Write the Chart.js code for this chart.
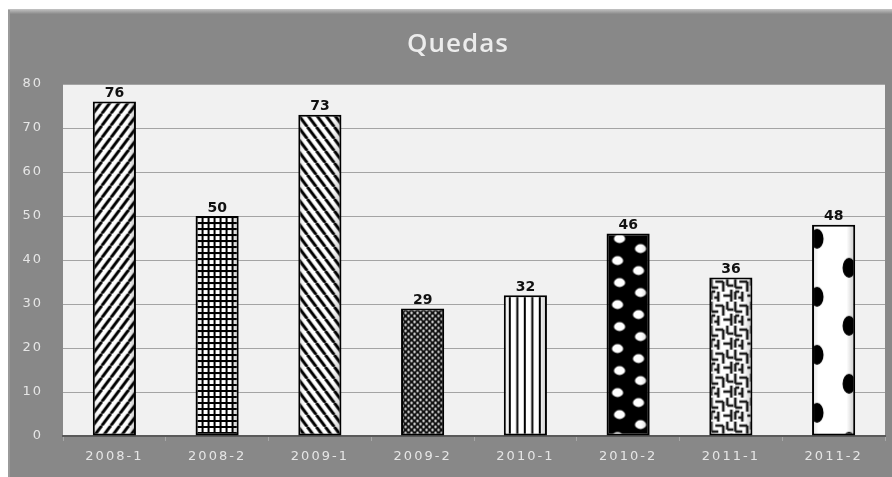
<!DOCTYPE html>
<html>
<head>
<meta charset="utf-8">
<script src="https://cdn.jsdelivr.net/npm/chart.js@4"></script>
<style>
  html, body { margin: 0; padding: 0; background: #fff; }
  #wrap { width: 892px; height: 477px; }
</style>
</head>
<body>
<div id="wrap"><canvas id="c" width="892" height="477"></canvas></div>
<script>
'use strict';

const categories = ['2008-1', '2008-2', '2009-1', '2009-2', '2010-1', '2010-2', '2011-1', '2011-2'];
const quedas = [76, 50, 73, 29, 32, 46, 36, 48];
const yTicks = [0, 10, 20, 30, 40, 50, 60, 70, 80];
const titleText = 'Quedas';

// small tiles turned into canvas patterns, one per bar
function tile(w, h, draw) {
    let cv = document.createElement('canvas');
    cv.width = w;
    cv.height = h;
    let g = cv.getContext('2d');
    draw(g, w, h);
    return document.getElementById('c').getContext('2d').createPattern(cv, 'repeat');
}

function stripes(dir) {
    return tile(9, 12, (g, w, h) => {
        g.fillStyle = '#fff';
        g.fillRect(0, 0, w, h);
        g.strokeStyle = '#000';
        g.lineWidth = 3;
        g.beginPath();
        for (let k = -1; k <= 1; k++) {
            if (dir > 0) {
                g.moveTo(k * w, h); g.lineTo(k * w + w, 0);
            } else {
                g.moveTo(k * w, 0); g.lineTo(k * w + w, h);
            }
        }
        g.stroke();
    });
}

let patterns = [
    stripes(1),
    tile(6, 6, (g) => {
        g.fillStyle = '#fff'; g.fillRect(0, 0, 6, 6);
        g.fillStyle = '#000'; g.fillRect(0, 0, 6, 2); g.fillRect(0, 0, 2, 6);
    }),
    stripes(-1),
    tile(6, 6, (g) => {
        g.fillStyle = '#111'; g.fillRect(0, 0, 6, 6);
        g.fillStyle = '#eee';
        g.beginPath(); g.arc(1.5, 1.5, 1.2, 0, Math.PI * 2); g.fill();
        g.beginPath(); g.arc(4.5, 4.5, 1.2, 0, Math.PI * 2); g.fill();
    }),
    tile(15, 10, (g) => {
        g.fillStyle = '#fff'; g.fillRect(0, 0, 15, 10);
        g.fillStyle = '#000'; g.fillRect(5, 0, 2, 10); g.fillRect(12.5, 0, 2, 10);
    }),
    tile(42, 44, (g) => {
        g.fillStyle = '#000'; g.fillRect(0, 0, 42, 44);
        g.fillStyle = '#fff';
        for (let [x, y] of [[13, 5], [34, 15], [11, 27], [32, 37]]) {
            g.beginPath(); g.ellipse(x, y, 5.6, 4.4, 0, 0, Math.PI * 2); g.fill();
        }
    }),
    tile(24, 24, (g) => {
        g.fillStyle = '#fff'; g.fillRect(0, 0, 24, 24);
        g.strokeStyle = '#1a1a1a'; g.lineWidth = 2.6;
        g.beginPath();
        let segs = [[2, 0, 2, 10], [2, 10, 9, 10], [6, 4, 14, 4], [14, 4, 14, 14], [9, 14, 9, 24],
                    [18, 0, 18, 8], [18, 8, 24, 8], [14, 18, 22, 18], [22, 12, 22, 24], [2, 14, 6, 14],
                    [2, 14, 2, 22], [5, 20, 9, 20]];
        for (let s of segs) { g.moveTo(s[0], s[1]); g.lineTo(s[2], s[3]); }
        g.stroke();
    }),
    tile(43, 58, (g) => {
        g.fillStyle = '#fff'; g.fillRect(0, 0, 43, 58);
        g.fillStyle = '#000';
        for (let [x, y] of [[5, 14], [37, 43]]) {
            g.beginPath(); g.ellipse(x, y, 6.5, 10, 0, 0, Math.PI * 2); g.fill();
        }
    }),
];

const panelPlugin = {
    id: 'panel',
    beforeDraw(chart) {
        let ctx = chart.ctx;
        let a = chart.chartArea;
        ctx.save();
        ctx.fillStyle = '#888';
        ctx.fillRect(8, 10, 884, 467);
        let grad = ctx.createLinearGradient(0, 9, 0, 14);
        grad.addColorStop(0, '#c4c4c4');
        grad.addColorStop(1, '#8a8a8a');
        ctx.fillStyle = grad;
        ctx.fillRect(8, 9, 884, 5);
        ctx.fillStyle = '#9a9a9a';
        ctx.fillRect(8, 10, 2, 467);
        ctx.fillStyle = '#f1f1f1';
        ctx.fillRect(a.left, a.top, a.right - a.left, a.bottom - a.top);
        ctx.fillStyle = '#ececec';
        ctx.font = '600 26px "Open Sans", "DejaVu Sans", sans-serif';
        ctx.letterSpacing = '1px';
        ctx.textAlign = 'center';
        ctx.textBaseline = 'middle';
        ctx.fillText(titleText, 458, 45);
        ctx.restore();
        ctx.letterSpacing = '2px';
    },
    beforeDatasetsDraw(chart) {
        // anchor each tile to its own bar so the dots sit like the reference
        let meta = chart.getDatasetMeta(0);
        meta.data.forEach((bar, i) => {
            let p = patterns[i];
            if (p && p.setTransform) {
                p.setTransform(new DOMMatrix().translate(bar.x - bar.width / 2, bar.y));
            }
        });
    },
    afterDatasetsDraw(chart) {
        let ctx = chart.ctx;
        ctx.save();
        ctx.letterSpacing = '0px';
        let meta = chart.getDatasetMeta(0);
        // light bevel on each bar
        meta.data.forEach((bar) => {
            let l = bar.x - bar.width / 2, r = bar.x + bar.width / 2;
            let gr = ctx.createLinearGradient(l, 0, r, 0);
            gr.addColorStop(0, 'rgba(0,0,0,0.12)');
            gr.addColorStop(0.15, 'rgba(0,0,0,0)');
            gr.addColorStop(0.8, 'rgba(0,0,0,0)');
            gr.addColorStop(1, 'rgba(0,0,0,0.22)');
            ctx.fillStyle = gr;
            ctx.fillRect(l + 1, bar.y + 1, bar.width - 2, bar.base - bar.y - 2);
        });
        ctx.fillStyle = '#111';
        ctx.font = 'bold 14px "DejaVu Sans", sans-serif';
        ctx.textAlign = 'center';
        ctx.textBaseline = 'bottom';
        meta.data.forEach((bar, i) => {
            ctx.fillText(String(quedas[i]), bar.x, bar.y - 1);
        });
        ctx.restore();
    }
};

new Chart(document.getElementById('c'), {
    type: 'bar',
    data: {
        labels: categories,
        datasets: [{
            data: quedas,
            backgroundColor: patterns,
            borderColor: '#000',
            borderWidth: 2,
            borderSkipped: false,
            barPercentage: 0.42,
            categoryPercentage: 1,
        }],
    },
    options: {
        responsive: false,
        animation: false,
        devicePixelRatio: 1,
        layout: { padding: { top: 84, right: 7, left: 0, bottom: 0 } },
        plugins: {
            legend: { display: false },
            title: { display: false },
            tooltip: { enabled: false },
        },
        scales: {
            x: {
                grid: { display: true, drawOnChartArea: false, offset: true, tickLength: 5, color: '#a8a8a8' },
                border: { color: '#5a5a5a', width: 2 },
                ticks: { color: '#e6e6e6', font: { family: 'DejaVu Sans', size: 13 }, padding: 8 },
                afterFit(scale) { scale.height = 41; },
            },
            y: {
                min: 0,
                max: 80,
                afterBuildTicks(scale) { scale.ticks = yTicks.map((v) => ({ value: v })); },
                grid: { color: '#a4a4a4', lineWidth: 1, drawTicks: false },
                border: { display: false },
                ticks: { color: '#e6e6e6', font: { family: 'DejaVu Sans', size: 13 }, padding: 20 },
                afterFit(scale) { scale.width = 63; },
            },
        },
    },
    plugins: [panelPlugin],
});
</script>
</body>
</html>
